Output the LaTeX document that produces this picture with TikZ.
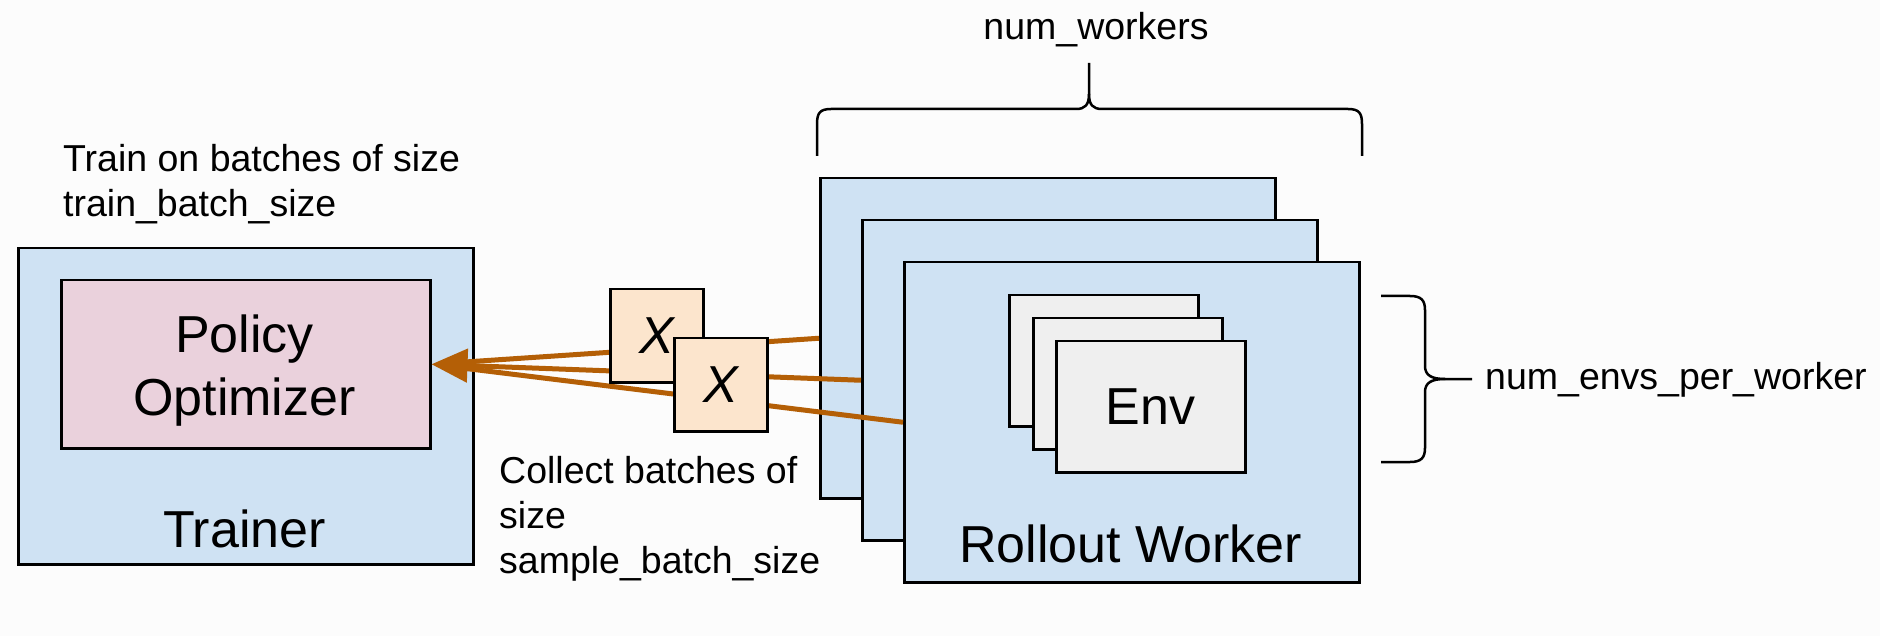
\documentclass[tikz,border=0pt]{standalone}
\usepackage{fontspec}
\setmainfont{Liberation Sans}
\usetikzlibrary{arrows.meta}
\definecolor{bluebg}{HTML}{CFE2F3}
\definecolor{pinkbg}{HTML}{EAD1DC}
\definecolor{orangebg}{HTML}{FCE5CD}
\definecolor{graybg}{HTML}{EFEFEF}
\definecolor{flow}{HTML}{B45F06}
\definecolor{paper}{HTML}{FCFCFC}
\begin{document}
\begin{tikzpicture}[x=1pt,y=-1pt,
  box/.style={draw=black, line width=2.5pt, inner sep=0pt, anchor=north west},
  small/.style={font=\fontsize{37.5}{45}\selectfont, inner sep=0pt},
  big/.style={font=\fontsize{52}{63}\selectfont, inner sep=0pt},
  flowline/.style={draw=flow, line width=5pt},
  brace/.style={draw=black, line width=2.5pt, line join=round},
]
\fill[paper] (0,0) rectangle (1880,636);
\useasboundingbox (0,0) rectangle (1880,636);

% Trainer
\node[box, fill=bluebg, minimum width=455pt, minimum height=316pt] (tr) at (17,247) {};
\node[box, fill=pinkbg, minimum width=369pt, minimum height=168pt] (po) at (60,279) {};
\node[big, align=center, anchor=base] (potext) at (244.5,415) {Policy\\Optimizer};
\node[big, anchor=base] (trtext) at (244.5,547) {Trainer};

% Rollout workers
\node[box, fill=bluebg, minimum width=455pt, minimum height=320pt] (w1) at (819,177) {};
\node[box, fill=bluebg, minimum width=455pt, minimum height=320pt] (w2) at (861,219) {};
\node[box, fill=bluebg, minimum width=455pt, minimum height=320pt] (w3) at (903,261) {};
\node[box, fill=graybg, minimum width=189pt, minimum height=131pt] (e1) at (1008,294) {};
\node[box, fill=graybg, minimum width=189pt, minimum height=131pt] (e2) at (1032,317) {};
\node[box, fill=graybg, minimum width=189pt, minimum height=131pt, big] (e3) at (1055,340) {Env};
\node[big, anchor=base] (rwtext) at (1130.5,562) {Rollout Worker};

% flows
\draw[flowline, -{Triangle[length=36pt,width=33pt]}] (w2.west) -- (po.east);
\draw[flowline, shorten >=25pt] (w1.west) -- (po.east);
\draw[flowline, shorten >=25pt] (w3.west) -- (po.east);

% sample batches
\node[box, fill=orangebg, minimum width=93pt, minimum height=93pt, font=\fontsize{52}{63}\itshape] (x1) at (609,288) {X};
\node[box, fill=orangebg, minimum width=93pt, minimum height=93pt, font=\fontsize{52}{63}\itshape] (x2) at (673,337) {X};

% labels
\node[small, align=left, anchor=base west] (traintxt) at (63,217) {Train on batches of size\\train\_batch\_size};
\node[small, align=left, anchor=base west] (colltxt) at (499,573) {Collect batches of\\size\\sample\_batch\_size};
\node[small, anchor=base] (nwtxt) at (1096,40) {num\_workers};
\node[small, anchor=base west] (netxt) at (1485,389) {num\_envs\_per\_worker};

% braces
\coordinate (tb) at (1089,63);
\draw[brace] (817,156) -- (817,124) .. controls (817,113) and (820,109) .. (831,109)
  -- (1076,109) .. controls (1085,109) and (1089,105) .. (1089,94) -- (tb);
\draw[brace] (1089,94) .. controls (1089,105) and (1093,109) .. (1102,109)
  -- (1348,109) .. controls (1359,109) and (1362,113) .. (1362,124) -- (1362,156);
\coordinate (rb) at (1472,379);
\draw[brace] (1381,296) -- (1410,296) .. controls (1421,296) and (1425,300) .. (1425,310)
  -- (1425,366) .. controls (1425,375) and (1431,379) .. (1445,379) -- (rb);
\draw[brace] (1445,379) .. controls (1431,379) and (1425,383) .. (1425,392)
  -- (1425,448) .. controls (1425,458) and (1421,462) .. (1410,462) -- (1381,462);
\end{tikzpicture}
\end{document}
